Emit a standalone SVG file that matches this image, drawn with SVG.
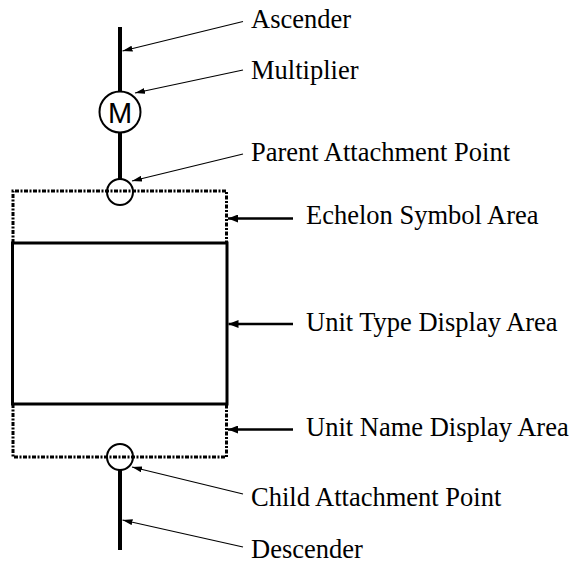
<svg xmlns="http://www.w3.org/2000/svg" width="571" height="563" viewBox="0 0 571 563">
  <style>
    .label { font-family: "Liberation Serif", "Times New Roman", serif; font-size: 26.5px; fill: #000; }
    .mark { font-family: "Liberation Sans", Arial, sans-serif; font-size: 29px; fill: #000; }
    .stem { stroke: #000; stroke-width: 4; fill: none; }
    .ring { stroke: #000; stroke-width: 2; fill: none; }
    .solid { stroke: #000; stroke-width: 3; fill: none; }
    .dotted { stroke: #000; stroke-width: 3; fill: none; stroke-dasharray: 4 1.5 2 1.5; }
    .lead { stroke: #000; stroke-width: 1.2; fill: none; marker-end: url(#tip); }
    .lead-bold { stroke: #000; stroke-width: 2.5; fill: none; marker-end: url(#tip-bold); }
  </style>
  <defs>
    <marker id="tip" markerUnits="userSpaceOnUse" viewBox="0 0 10 6" refX="10" refY="3" markerWidth="10" markerHeight="6" orient="auto">
      <path d="M0,0 L10,3 L0,6 z" fill="#000"/>
    </marker>
    <marker id="tip-bold" markerUnits="userSpaceOnUse" viewBox="0 0 10 8" refX="10" refY="4" markerWidth="10" markerHeight="8" orient="auto">
      <path d="M0,0 L10,4 L0,8 z" fill="#000"/>
    </marker>
  </defs>

  <!-- symbol areas -->
  <g id="echelon-area">
    <path class="dotted" d="M13,243 V191 H226.5 V243"/>
  </g>
  <g id="unit-name-area">
    <path class="dotted" d="M13,404 V457 H226.5 V404"/>
  </g>
  <g id="unit-type-area">
    <rect class="solid" x="12.5" y="243" width="214.5" height="161"/>
  </g>

  <!-- ascender / descender stems -->
  <g id="ascender">
    <line class="stem" x1="120" y1="27" x2="120" y2="92"/>
    <line class="stem" x1="120" y1="132" x2="120" y2="179"/>
  </g>
  <g id="descender">
    <line class="stem" x1="120" y1="470" x2="120" y2="550"/>
  </g>

  <g id="multiplier">
    <circle class="ring" cx="120" cy="112" r="20.5"/>
    <text class="mark" x="120" y="123" text-anchor="middle">M</text>
  </g>
  <g id="parent-attachment">
    <circle class="ring" cx="120" cy="192" r="13"/>
  </g>
  <g id="child-attachment">
    <circle class="ring" cx="120" cy="457" r="13"/>
  </g>

  <!-- leader lines -->
  <g id="connectors">
    <line class="lead" x1="243" y1="21.5" x2="122.5" y2="51"/>
    <line class="lead" x1="243" y1="70" x2="135" y2="93"/>
    <line class="lead" x1="243" y1="154" x2="132" y2="181"/>
    <line class="lead-bold" x1="293" y1="218.5" x2="228" y2="218.5"/>
    <line class="lead-bold" x1="293" y1="324" x2="228.5" y2="324"/>
    <line class="lead-bold" x1="293" y1="429.5" x2="228" y2="429.5"/>
    <line class="lead" x1="243" y1="494" x2="132" y2="467"/>
    <line class="lead" x1="243" y1="547" x2="122.5" y2="520"/>
  </g>

  <g id="labels">
    <text class="label" x="251" y="28">Ascender</text>
    <text class="label" x="251" y="79">Multiplier</text>
    <text class="label" x="251" y="161">Parent Attachment Point</text>
    <text class="label" x="306" y="224">Echelon Symbol Area</text>
    <text class="label" x="306" y="331">Unit Type Display Area</text>
    <text class="label" x="306" y="436">Unit Name Display Area</text>
    <text class="label" x="251" y="506">Child Attachment Point</text>
    <text class="label" x="251" y="558">Descender</text>
  </g>
</svg>
